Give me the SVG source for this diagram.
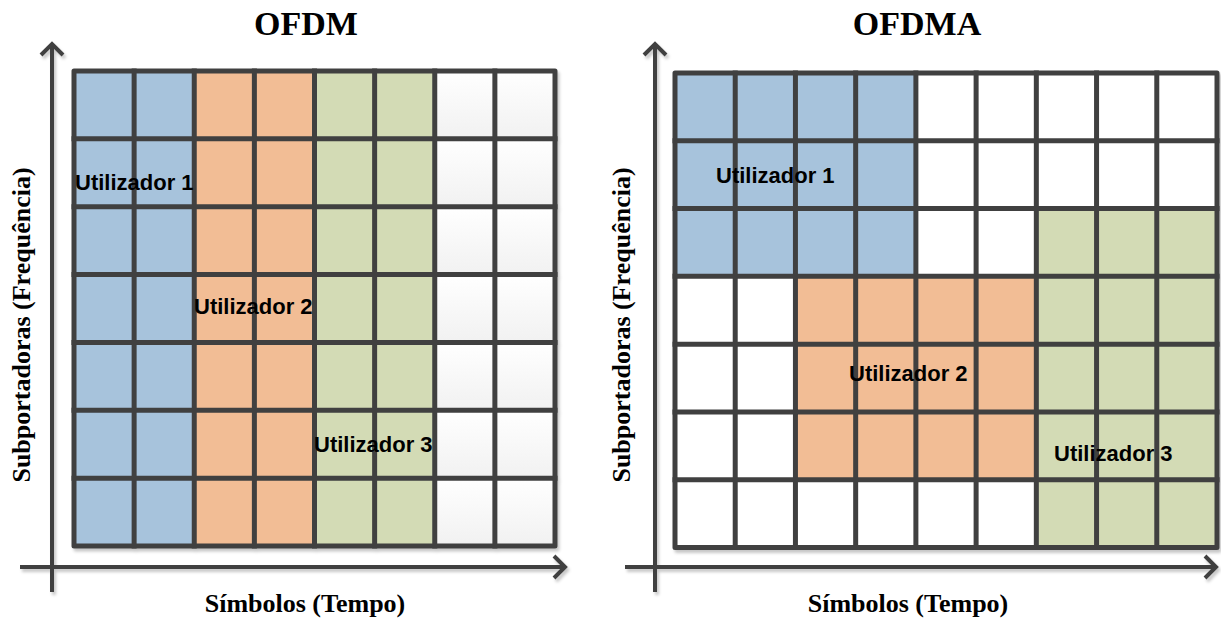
<svg xmlns="http://www.w3.org/2000/svg" width="1221" height="619" viewBox="0 0 1221 619">
  <style>
    .title { font-family: "Liberation Serif", "Times New Roman", serif; font-weight: bold; font-size: 34px; fill: #000; text-anchor: middle; }
    .axis-label { font-family: "Liberation Serif", "Times New Roman", serif; font-weight: bold; font-size: 26px; fill: #000; text-anchor: middle; }
    .user { font-family: "Liberation Sans", Arial, sans-serif; font-weight: bold; font-size: 22px; fill: #000; }
    .axis { fill: none; stroke: #404040; stroke-width: 4; }
    .grid { fill: none; stroke: #404040; stroke-width: 5; stroke-linecap: square; stroke-linejoin: round; }
    .blue { fill: #a7c3dc; }
    .orange { fill: #f2bd95; }
    .green { fill: #d3dbb5; }
    .white { fill: #ffffff; }
    .soft { fill: url(#cellFade); }
  </style>
  <defs>
    <linearGradient id="cellFade" x1="0" y1="0" x2="0" y2="1">
      <stop offset="0" stop-color="#ffffff"/>
      <stop offset="1" stop-color="#f1f1f1"/>
    </linearGradient>
    <filter id="shade" x="-5%" y="-5%" width="110%" height="110%">
      <feDropShadow dx="2" dy="3" stdDeviation="1.5" flood-color="#000" flood-opacity="0.22"/>
    </filter>
    <marker id="chevron" markerUnits="userSpaceOnUse" markerWidth="30" markerHeight="30" refX="0" refY="0" viewBox="-15 -15 30 30" orient="auto" overflow="visible">
      <path d="M-11,-11 L0,0 L-11,11" fill="none" stroke="#404040" stroke-width="4" stroke-linejoin="miter"/>
    </marker>
  </defs>

  <!-- Titles -->
  <text class="title" x="306" y="35">OFDM</text>
  <text class="title" x="917" y="35">OFDMA</text>

  <!-- Axes -->
  <g id="axes" filter="url(#shade)">
    <path class="axis" d="M52,592 V44" marker-end="url(#chevron)"/>
    <path class="axis" d="M20,567 H565" marker-end="url(#chevron)"/>
    <path class="axis" d="M655,592 V44" marker-end="url(#chevron)"/>
    <path class="axis" d="M625,567 H1216" marker-end="url(#chevron)"/>
  </g>

  <!-- Axis labels -->
  <text class="axis-label" x="305" y="612">Símbolos (Tempo)</text>
  <text class="axis-label" x="908" y="612">Símbolos (Tempo)</text>
  <text class="axis-label" transform="translate(30,325) rotate(-90)">Subportadoras (Frequência)</text>
  <text class="axis-label" transform="translate(630,325) rotate(-90)">Subportadoras (Frequência)</text>

  <!-- OFDM resource grid: each user owns two full symbol columns -->
  <g id="ofdm-grid" filter="url(#shade)">
    <rect class="blue" x="74" y="71" width="120.25" height="475"/>
    <rect class="orange" x="194.25" y="71" width="120.25" height="475"/>
    <rect class="green" x="314.5" y="71" width="120.25" height="475"/>
    <g id="ofdm-free">
      <rect class="soft" x="434.75" y="71" width="60.125" height="67.86"/>
      <rect class="soft" x="494.875" y="71" width="60.125" height="67.86"/>
      <rect class="soft" x="434.75" y="138.86" width="60.125" height="67.86"/>
      <rect class="soft" x="494.875" y="138.86" width="60.125" height="67.86"/>
      <rect class="soft" x="434.75" y="206.71" width="60.125" height="67.86"/>
      <rect class="soft" x="494.875" y="206.71" width="60.125" height="67.86"/>
      <rect class="soft" x="434.75" y="274.57" width="60.125" height="67.86"/>
      <rect class="soft" x="494.875" y="274.57" width="60.125" height="67.86"/>
      <rect class="soft" x="434.75" y="342.43" width="60.125" height="67.86"/>
      <rect class="soft" x="494.875" y="342.43" width="60.125" height="67.86"/>
      <rect class="soft" x="434.75" y="410.29" width="60.125" height="67.86"/>
      <rect class="soft" x="494.875" y="410.29" width="60.125" height="67.86"/>
      <rect class="soft" x="434.75" y="478.14" width="60.125" height="67.86"/>
      <rect class="soft" x="494.875" y="478.14" width="60.125" height="67.86"/>
    </g>
    <path class="grid" d="M134.125,71 V546 M194.25,71 V546 M254.375,71 V546 M314.5,71 V546 M374.625,71 V546 M434.75,71 V546 M494.875,71 V546
                          M74,138.86 H555 M74,206.71 H555 M74,274.57 H555 M74,342.43 H555 M74,410.29 H555 M74,478.14 H555"/>
    <rect class="grid" x="74" y="71" width="481" height="475"/>
  </g>

  <!-- OFDMA resource grid: users share blocks of subcarriers and symbols -->
  <g id="ofdma-grid" filter="url(#shade)">
    <rect class="white" x="675" y="73" width="542" height="474.5"/>
    <rect class="blue" x="675" y="73" width="240.89" height="203.36"/>
    <rect class="orange" x="795.44" y="276.36" width="240.89" height="203.35"/>
    <rect class="green" x="1036.33" y="208.57" width="180.67" height="338.93"/>
    <path class="grid" d="M735.22,73 V547.5 M795.44,73 V547.5 M855.67,73 V547.5 M915.89,73 V547.5 M976.11,73 V547.5 M1036.33,73 V547.5 M1096.56,73 V547.5 M1156.78,73 V547.5
                          M675,140.79 H1217 M675,208.57 H1217 M675,276.36 H1217 M675,344.14 H1217 M675,411.93 H1217 M675,479.71 H1217"/>
    <rect class="grid" x="675" y="73" width="542" height="474.5"/>
  </g>

  <!-- User labels -->
  <g id="ofdm-users">
    <text class="user" x="75" y="190">Utilizador 1</text>
    <text class="user" x="194" y="314">Utilizador 2</text>
    <text class="user" x="314" y="452">Utilizador 3</text>
  </g>
  <g id="ofdma-users">
    <text class="user" x="716" y="183">Utilizador 1</text>
    <text class="user" x="849" y="381">Utilizador 2</text>
    <text class="user" x="1054" y="461">Utilizador 3</text>
  </g>
</svg>
